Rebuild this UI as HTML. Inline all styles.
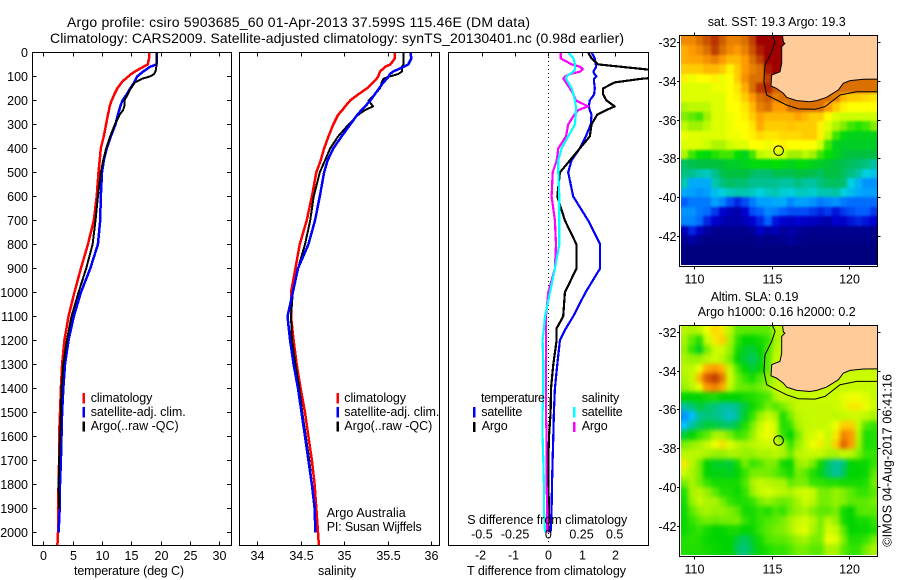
<!DOCTYPE html>
<html lang="en">
<head>
<meta charset="utf-8">
<title>Argo profile 5903685_60</title>
<style>
html,body{margin:0;padding:0;background:#fff;width:900px;height:580px;overflow:hidden}
svg{display:block}
text{font-family:"Liberation Sans",Arial,sans-serif;font-size:12.5px;fill:#000}
.title{font-size:14px}
.frame{fill:none;stroke:#000;stroke-width:1;shape-rendering:crispEdges}
</style>
</head>
<body>
<svg id="chart" xmlns="http://www.w3.org/2000/svg" width="900" height="580" viewBox="0 0 900 580">
<defs>
<clipPath id="clip-t"><rect x="33" y="53" width="198" height="492"/></clipPath>
<clipPath id="clip-s"><rect x="240" y="53" width="199" height="492"/></clipPath>
<clipPath id="clip-d"><rect x="449" y="53" width="199" height="492"/></clipPath>
<clipPath id="clip-m1"><rect x="680" y="36" width="197" height="231"/></clipPath>
<clipPath id="clip-m2"><rect x="680" y="326" width="197" height="231"/></clipPath>
<clipPath id="clip-c1"><rect x="681" y="36" width="196" height="229"/></clipPath>
<clipPath id="clip-c2"><rect x="681" y="326" width="196" height="229"/></clipPath>
<filter id="smooth-sst" x="-5%" y="-5%" width="110%" height="110%" color-interpolation-filters="sRGB">
<feGaussianBlur stdDeviation="1.2"/>
<feComponentTransfer><feFuncA type="linear" slope="60"/></feComponentTransfer>
</filter>
<filter id="smooth-sla" x="-5%" y="-5%" width="110%" height="110%" color-interpolation-filters="sRGB">
<feGaussianBlur stdDeviation="2.4"/>
<feComponentTransfer><feFuncA type="linear" slope="60"/></feComponentTransfer>
</filter>
</defs>
<rect x="0" y="0" width="900" height="580" fill="#fff"/>
<text class="title" x="67" y="27" textLength="463" lengthAdjust="spacing">Argo profile: csiro 5903685_60 01-Apr-2013 37.599S 115.46E (DM data)</text>
<text class="title" x="50" y="43" textLength="574" lengthAdjust="spacing">Climatology: CARS2009. Satellite-adjusted climatology: synTS_20130401.nc (0.98d earlier)</text>

<g id="panel-t"></g>
<g id="panel-s"></g>
<g id="panel-d"></g>
<g id="map-sst"></g>
<g id="map-sla"></g>

<rect class="frame" x="32.5" y="52.5" width="199" height="493"/>
<rect class="frame" x="239.5" y="52.5" width="200" height="493"/>
<rect class="frame" x="448.5" y="52.5" width="200" height="493"/>
<rect class="frame" x="679.5" y="35.5" width="198" height="231"/>
<rect class="frame" x="679.5" y="325.5" width="198" height="231"/>

<text x="74" y="575" textLength="110" lengthAdjust="spacing">temperature (deg C)</text>
<text x="318" y="575" textLength="38" lengthAdjust="spacing">salinity</text>
<text x="467" y="575" textLength="159" lengthAdjust="spacing">T difference from climatology</text>
<text x="467.3" y="524" textLength="160" lengthAdjust="spacing">S difference from climatology</text>

<g>
<rect x="82.5" y="393" width="2.5" height="10.5" fill="#f00"/>
<rect x="82.5" y="407" width="2.5" height="10.5" fill="#00f"/>
<rect x="82.5" y="421.5" width="2.5" height="10" fill="#000"/>
<text x="90.7" y="402" textLength="61.7" lengthAdjust="spacing">climatology</text>
<text x="90.7" y="416" textLength="95" lengthAdjust="spacing">satellite-adj. clim.</text>
<text x="90.7" y="430" textLength="88" lengthAdjust="spacing">Argo(..raw -QC)</text>
</g>
<g>
<rect x="336.5" y="393" width="2.5" height="10.5" fill="#f00"/>
<rect x="336.5" y="407" width="2.5" height="10.5" fill="#00f"/>
<rect x="336.5" y="421.5" width="2.5" height="10" fill="#000"/>
<text x="344.3" y="402" textLength="61.7" lengthAdjust="spacing">climatology</text>
<text x="344.3" y="416" textLength="95" lengthAdjust="spacing">satellite-adj. clim.</text>
<text x="344.3" y="430" textLength="88" lengthAdjust="spacing">Argo(..raw -QC)</text>
<text x="326.7" y="517" textLength="79" lengthAdjust="spacing">Argo Australia</text>
<text x="326.7" y="531" textLength="95" lengthAdjust="spacing">PI: Susan Wijffels</text>
</g>
<g>
<text x="481" y="402" textLength="64" lengthAdjust="spacing">temperature</text>
<rect x="473" y="407" width="2.5" height="10.5" fill="#00f"/>
<text x="481.3" y="416" textLength="41" lengthAdjust="spacing">satellite</text>
<rect x="473" y="422" width="2.5" height="10" fill="#000"/>
<text x="481.7" y="430" textLength="26" lengthAdjust="spacing">Argo</text>
<text x="581.7" y="402" textLength="37.6" lengthAdjust="spacing">salinity</text>
<rect x="573" y="407" width="2.5" height="10.5" fill="#0ff"/>
<text x="581.7" y="416" textLength="41" lengthAdjust="spacing">satellite</text>
<rect x="573" y="422" width="2.5" height="10" fill="#f0f"/>
<text x="581.7" y="430" textLength="26" lengthAdjust="spacing">Argo</text>
</g>

<text x="707.7" y="26" textLength="138" lengthAdjust="spacing">sat. SST: 19.3 Argo: 19.3</text>
<text x="710.7" y="301" textLength="87.7" lengthAdjust="spacing">Altim. SLA: 0.19</text>
<text x="697.7" y="316" textLength="158" lengthAdjust="spacing">Argo h1000: 0.16 h2000: 0.2</text>
<text transform="translate(891.7 546.7) rotate(-90)" x="0" y="0" textLength="172.7" lengthAdjust="spacing">©IMOS 04-Aug-2017 06:41:16</text>
</svg>

<script>
// ---- profile data ----
const profileDepths = [0,25,50,60,70,80,90,100,110,125,150,175,200,225,240,260,300,350,400,450,500,600,700,800,900,1000,1100,1200,1300,1400,1500,1600,1700,1800,1900,2000,2055];
const tempClim = [18.1,18.0,17.8,17.05,16.3,15.6,15.0,14.5,14.0,13.35,12.6,12.1,11.65,11.3,11.2,11.0,10.7,10.3,9.8,9.6,9.4,9.1,8.6,7.6,6.4,5.3,4.3,3.6,3.2,3.0,2.85,2.7,2.7,2.6,2.5,2.5,2.4];
const tempSat = [19.3,19.3,19.3,18.2,17.6,17.0,16.5,16.0,15.8,15.5,14.8,14.2,13.5,13.1,12.95,12.7,12.3,11.5,10.8,10.3,10.0,9.8,9.7,9.3,8.0,6.4,5.2,4.3,3.7,3.4,3.2,3.1,3.0,2.85,2.8,2.6];
const tempArgo = [19.3,19.3,19.3,19.25,19.2,19.1,18.9,18.2,16.8,15.6,14.9,14.4,13.8,13.8,13.6,13.0,12.2,11.4,10.7,10.2,9.8,9.3,8.9,8.4,7.3,6.0,4.8,4.0,3.4,3.1,3.0,2.85,2.7,2.6,2.7];
const salClim = [35.58,35.58,35.53,35.47,35.44,35.41,35.40,35.39,35.37,35.33,35.26,35.16,35.07,35.01,34.98,34.93,34.875,34.82,34.77,34.73,34.68,34.63,34.57,34.49,34.44,34.39,34.39,34.42,34.455,34.5,34.55,34.59,34.63,34.66,34.68,34.7,34.71];
const salSat = [35.76,35.77,35.735,35.68,35.62,35.56,35.525,35.51,35.49,35.45,35.4,35.35,35.3,35.24,35.2,35.15,35.07,34.97,34.875,34.81,34.77,34.72,34.665,34.59,34.47,34.41,34.35,34.38,34.42,34.47,34.51,34.55,34.59,34.63,34.66,34.67];
const salArgo = [35.68,35.68,35.68,35.66,35.66,35.66,35.62,35.525,35.45,35.43,35.41,35.35,35.28,35.33,35.24,35.16,35.05,34.93,34.84,34.78,34.72,34.65,34.61,34.55,34.47,34.41,34.39,34.4,34.44,34.485,34.52,34.56,34.6,34.63,34.665];

const diffDepths = [0,25,50,60,70,80,90,100,110,125,150,175,200,225,240,260,300,350,400,450,500,600,700,800,900,1000,1100,1150,1200,1300,1400,1500,1600,1700,1800,1900,2000];
const tDiffSat = [1.3,1.4,1.43,1.44,1.4,1.36,1.39,1.45,1.38,1.38,1.4,1.38,1.25,1.22,1.25,1.3,1.28,1.13,0.95,0.7,0.6,0.75,1.2,1.56,1.56,1.12,0.75,0.53,0.35,0.27,0.2,0.17,0.15,0.13,0.11,0.1,0.07];
const tDiffArgo = [1.2,1.3,1.5,2.2,2.9,3.5,3.9,3.7,2.8,2.0,1.65,1.65,1.75,2.0,1.75,1.47,1.3,1.25,0.95,0.65,0.35,0.27,0.5,0.85,0.85,0.5,0.45,0.25,0.25,0.15,0.08,0.07,0.02,0,0,0.02,0];
const sDiffSat = [0.15,0.19,0.2,0.2,0.2,0.19,0.163,0.138,0.133,0.15,0.176,0.19,0.2,0.208,0.208,0.206,0.2,0.15,0.1,0.075,0.075,0.083,0.083,0.083,0.05,0.013,-0.025,-0.033,-0.043,-0.038,-0.038,-0.043,-0.043,-0.038,-0.033,-0.033,-0.025];
const sDiffArgo = [0.093,0.093,0.176,0.24,0.26,0.24,0.163,0.126,0.113,0.133,0.163,0.19,0.208,0.3,0.226,0.196,0.15,0.133,0.075,0.063,0.033,0.025,0.05,0.058,0.05,0,-0.018,-0.018,-0.018,-0.018,-0.018,-0.018,-0.0125,-0.0125,-0.0125,-0.008,-0.008];

// ---- tick labels ----
const depthTicks = [0,100,200,300,400,500,600,700,800,900,1000,1100,1200,1300,1400,1500,1600,1700,1800,1900,2000];
const tempTicks = [0,5,10,15,20,25,30];
const salTicks = [34,34.5,35,35.5,36];
const tDiffTicks = [-2,-1,0,1,2];
const sDiffTicks = [-0.5,-0.25,0,0.25,0.5];
const lonTicks = [110,115,120];
const latTicks = [-32,-34,-36,-38,-40,-42];

// ---- map data: rows north to south, columns west to east ----
const sstGrid = [
[20.7,20.7,21,21.3,21.6,21.2,20.8,20.8,21,21.5,22,22,22,22,22,22,22,22,22,22,22,22,22,22,22,22],
[20.3,20.5,20.7,21,21.5,21,20.7,20.5,20.8,21.3,21.8,22,22,22,22,22,22,22,22,22,22,22,22,22,22,22],
[20.3,20.4,20.4,20.6,20.8,20.5,20.2,20.2,20.5,21,21.5,22,22,22,22,22,22,22,22,22,22,22,22,22,22,22],
[20,20,20,20.2,20.2,20,19.7,20,20.5,20.8,21,21.8,22,22,22,22,22,22,22,22,22,22,22,22,22,22],
[19.7,19.5,19.6,19.6,19.7,19.5,19.6,20,20.6,21,21,21.5,22,22,22,22,22,22,22,22,22,21,21,21,21,21],
[19.4,19.4,19.4,19.4,19.5,19.5,19.6,19.8,20.3,21,21.6,21.7,21.2,21,21,21,21,21,21,21,21,21,21,21,21,21],
[19.4,19.4,19.4,19.4,19.4,19.4,19.6,19.7,20,20.5,21,21.2,20.8,21,21,21,21,21,21,21,20.8,20.2,20,20,19.9,19.8],
[19.1,19.2,19.2,19.2,19.4,19.4,19.6,19.6,19.8,20.2,20.8,21,20.5,20.5,21,21,21,21,21,20.5,20,19.7,19.6,19.6,19.6,19.6],
[18.9,18.8,18.7,19,19.4,19.4,19.5,19.6,19.7,20,20.4,20.2,20.2,20.2,20.2,20.4,20.2,20,20,19.6,19.4,19.3,19.3,19.3,19.3,19.3],
[19.2,19,19,19.2,19.4,19.4,19.5,19.6,19.6,19.8,20.3,20,20,20,20.1,20,20,20,19.7,19.4,19.1,18.9,18.7,18.6,18.7,18.9],
[19.5,19.4,19.4,19.4,19.4,19.4,19.5,19.5,19.6,19.7,19.9,19.8,19.8,19.9,19.9,19.9,20,20,19.7,19.2,18.7,18.4,18.3,18.3,18.3,18.3],
[19.4,19.4,19.4,19.3,19.1,19.1,19.3,19.4,19.4,19.6,19.6,19.5,19.6,19.7,19.6,19.6,19.6,19.6,19.3,18.7,18.3,18.2,18.2,18.2,18.2,18.2],
[19.1,18.7,18.5,18.4,18.6,18.7,18.7,18.5,18.3,18.7,19.2,19.3,19.4,19.3,19,19,19.2,19,18.7,18.5,18.3,18.1,18,18,18,18],
[17.8,17.9,18,18,18,18.1,18.2,18.2,18.3,18.4,18.4,18.4,18.5,18.4,18.3,18.4,18.4,18.3,18.2,18.1,18,17.9,17.8,17.7,17.6,17.4],
[17.6,17.5,17.3,17.2,17.5,17.9,18,18,18,17.8,17.7,17.7,17.9,17.9,17.9,18,18,17.9,17.8,18,18,17.8,17.6,17.4,17,16.9],
[17.3,16.6,16.6,16.6,17.3,17.6,17.8,17.7,17.7,17.5,17.5,17.5,17.5,17.4,17.4,17.6,17.4,17.4,17.6,17.8,17.8,17.7,17,16.7,16.4,16.4],
[16.6,16.5,16.4,16.5,16.8,17,17.2,17.3,17.3,17.2,17,17.2,17.3,17.1,17,17.2,17.2,17.1,17.3,17.3,17.4,17,16.8,16.6,16.5,16.5],
[16,16.2,16.2,16.2,16.5,16.3,15.9,15.7,15.9,16.2,16.5,16.5,16.6,16.6,16.3,16.5,16.5,16.4,16.2,16.3,16.4,16.2,16.1,16.1,16.1,16.1],
[16.4,16.4,16.2,16.1,15.8,15.5,15.3,15.2,15.5,15.9,16,16.3,16.2,16,15.9,15.9,15.9,15.8,15.7,15.8,15.6,15.8,15.9,16,16,15.8],
[16.3,16.3,16.1,15.7,15.5,15.3,15.2,15.2,15.3,15.5,15.7,16,15.6,15.5,15.4,15.5,15.4,15.4,15.3,15.2,15.5,15.4,15.6,15.7,15.6,15.5],
[15.3,15.7,15.4,15.1,15,15,15,15,15,15.1,15.4,15.2,15.3,15.1,15.2,15.1,15,15,15,15,15,15,15,15,15,15],
[15,15.2,15,14.9,14.9,14.9,14.9,14.9,14.9,14.9,15,14.9,15,15,15.1,15,14.9,14.9,14.9,14.9,14.9,14.9,14.9,14.9,14.9,14.9],
[14.8,14.8,14.8,14.8,14.8,14.8,14.8,14.8,14.8,14.8,14.8,14.8,14.8,14.8,14.8,14.8,14.8,14.8,14.8,14.8,14.8,14.8,14.8,14.8,14.8,14.8],
[14.8,14.8,14.8,14.8,14.8,14.8,14.8,14.8,14.8,14.8,14.8,14.8,14.8,14.8,14.8,14.8,14.8,14.8,14.8,14.8,14.8,14.8,14.8,14.8,14.8,14.8]
];
const slaGrid = [
[.12,.1,.12,.2,.24,.22,.12,.03,.03,.03,.03,.03,.12,.12,.12,.12,.12,.12,.12,.12,.12,.12,.12,.12,.12,.12],
[.1,.03,-.02,.15,.22,.25,.1,0,-.05,-.05,-.03,0,.1,.12,.12,.12,.12,.12,.12,.12,.12,.12,.12,.12,.12,.12],
[.08,0,-.07,.05,.15,.15,.08,-.03,-.07,-.08,-.05,.02,.12,.12,.12,.12,.12,.12,.12,.12,.12,.12,.12,.12,.12,.12],
[.1,.08,.08,.12,.15,.12,.05,-.05,-.08,-.1,-.07,.03,.14,.14,.14,.14,.14,.14,.14,.14,.14,.14,.14,.14,.14,.14],
[.12,.13,.2,.28,.3,.27,.14,.02,-.05,-.08,-.05,.03,.14,.14,.14,.14,.14,.14,.14,.14,.14,.14,.14,.14,.14,.14],
[.1,.14,.27,.36,.4,.33,.16,.05,0,-.03,.02,.07,.12,.15,.15,.15,.15,.15,.15,.15,.15,.15,.15,.15,.15,.15],
[.08,.12,.2,.3,.32,.28,.14,.05,.04,.03,.05,.08,.14,.14,.14,.14,.14,.14,.14,.14,.14,.14,.14,.14,.14,.14],
[-.05,-.05,-.05,-.03,-.02,-.05,-.05,-.05,-.03,-.02,0,.02,.1,.14,.12,.13,.14,.15,.15,.15,.15,.18,.2,.2,.18,.14],
[-.15,-.12,-.08,-.1,-.12,-.15,-.15,-.13,-.08,-.04,0,.05,.02,.05,.1,.14,.14,.14,.14,.14,.15,.18,.22,.22,.2,.15],
[-.25,-.2,-.14,-.12,-.13,-.15,-.17,-.14,-.07,0,.08,.14,.1,-.02,.05,.12,.14,.14,.14,.14,.13,.14,.15,.15,.13,.1],
[-.2,-.15,-.1,-.08,-.08,-.1,-.1,-.08,-.02,.05,.14,.2,.15,-.02,0,.1,.13,.14,.14,.15,.2,.25,.25,.14,.02,0],
[-.08,-.05,0,.03,.1,.1,.05,0,.02,.08,.16,.2,.15,0,-.05,.05,.14,.16,.2,.14,.22,.32,.3,.12,-.02,-.02],
[.05,.08,.1,.14,.2,.23,.18,.12,.1,.12,.14,.15,.15,.1,0,.08,.14,.2,.22,.14,.25,.35,.3,.1,-.02,-.02],
[.12,.12,.12,.1,.08,.08,.1,.1,.08,.08,.1,.1,.12,.1,.04,.12,.14,.14,.14,.1,.1,.14,.12,.06,0,0],
[.22,.12,.05,-.05,-.07,-.07,-.08,-.03,.05,0,.02,.06,.05,-.03,-.05,.08,.1,.05,-.04,-.1,-.15,-.12,-.05,-.04,-.04,0],
[.15,.1,.05,-.05,-.06,-.06,-.07,-.05,0,.05,.05,.05,.03,0,-.03,.05,.03,-.02,-.06,-.1,-.15,-.1,-.05,-.05,-.04,.03],
[.05,.1,.05,0,-.03,-.03,-.03,-.03,.02,.1,.14,.12,.1,.1,.03,.05,.05,0,0,-.02,-.02,-.03,-.03,-.03,-.02,.05],
[-.02,.1,.12,.08,.03,-.02,-.02,-.04,0,.08,.14,.16,.14,.12,.1,.14,.16,.14,.05,.05,.08,.06,.03,0,0,.03],
[-.03,.08,.14,.1,.1,.05,0,-.02,-.02,0,.05,.08,.05,.04,.05,.1,.15,.12,.05,.05,.08,.06,.03,.03,.03,.05],
[-.04,.03,.08,.1,.08,.08,.06,.03,-.03,-.03,0,-.02,.02,0,.05,.08,.1,.06,.03,.03,.05,-.03,-.05,.02,.03,.03],
[-.04,0,.03,.05,.04,.05,.05,.06,0,-.03,0,.02,.03,.05,.1,.14,.16,.12,.05,.12,.08,-.03,-.05,-.03,-.03,0],
[-.04,-.02,0,-.03,-.05,-.05,-.03,-.03,-.05,-.04,0,.03,.05,.06,.1,.16,.18,.1,.05,.16,.14,.03,-.05,-.04,-.04,-.02],
[-.02,-.01,-.02,-.04,-.05,-.05,-.05,-.08,-.1,-.07,-.03,.02,.03,.03,.05,.08,.1,.05,.05,.2,.18,.06,-.02,-.02,0,.05],
[-.02,-.02,-.02,-.03,-.04,-.05,-.05,-.1,-.12,-.08,-.04,-.02,0,0,.02,.05,.05,.03,.03,.1,.1,.03,0,0,.05,.1]
];
// Geography (longitude, latitude)
const coastLon = [115.70,115.77,115.87,115.66,115.66,115.55,115.01,114.97,115.33,115.77,115.98,116.63,117.49,117.93,118.57,119.33,119.65,120.09,120.95,121.9];
const coastLat = [-31.6,-32.02,-32.07,-32.24,-33.10,-33.53,-33.70,-34.27,-34.39,-34.65,-34.85,-35.02,-35.08,-35.02,-34.85,-34.47,-34.13,-33.99,-33.92,-33.91];
const shelfLon = [115.01,115.23,115.01,114.58,114.51,114.69,115.33,115.98,116.74,117.82,118.47,119.44,120.52,121.9];
const shelfLat = [-31.6,-31.98,-32.50,-33.19,-34.04,-34.73,-34.99,-35.25,-35.45,-35.47,-35.33,-34.73,-34.56,-34.56];
const floatLon = 115.46;
const floatLat = -37.599;

// Colour scales
const sstLevels = [14.8,15,15.5,16,16.5,17,17.5,18,18.5,19,19.3,19.6,20,20.5,21,21.5,22];
const sstColors = ['#00007f','#00008f','#0000d0','#0060ff','#00a0ff','#00d0e0','#00c090','#00c040','#00e000','#a0f000','#ccff00','#ffff00','#ffcc00','#ff9900','#d97000','#c04000','#a00000'];
const slaLevels = [-.25,-.2,-.15,-.1,-.05,0,.05,.1,.15,.2,.25,.3,.35,.4];
const slaColors = ['#0090ff','#00c0ff','#00c0a0','#00c860','#00d400','#33e400','#77ee00','#aaf400','#ccfc00','#eeff00','#ffcc00','#ff9900','#e06000','#c04000'];

const NS = 'http://www.w3.org/2000/svg';
function add(parent, tag, attrs, txt) {
  const el = document.createElementNS(NS, tag);
  for (const k in attrs) el.setAttribute(k, attrs[k]);
  if (txt !== undefined) el.textContent = txt;
  parent.appendChild(el);
  return el;
}

// Axis functions
const yDepth = d => 52.4 + 0.24 * d;
const xTemp = v => 43.3 + 5.87 * v;
const xSal = v => 257 + 87.2 * (v - 34);
const xTDiff = v => 548.3 + 33.2 * v;
const xSDiff = v => 548.3 + 132.8 * v;
const xLon = v => 694.3 + 15.44 * (v - 110);
const yLatSst = v => 42 + 19.4 * (-32 - v);
const yLatSla = v => 331.7 + 19.43 * (-32 - v);

function drawProfile(parent, values, depths, xf, color, width, clip, name) {
  const pts = values.map((v, i) => xf(v).toFixed(1) + ',' + yDepth(depths[i]).toFixed(1)).join(' ');
  const line = add(parent, 'polyline', {points: pts, fill: 'none', stroke: color, 'stroke-width': width, 'stroke-linejoin': 'round', 'clip-path': 'url(#' + clip + ')', 'shape-rendering': 'crispEdges'});
  
  
}

function tickLine(parent, x1, y1, x2, y2, name) {
  const t = add(parent, 'line', {x1: x1, y1: y1, x2: x2, y2: y2, stroke: '#000', 'stroke-width': 1, 'shape-rendering': 'crispEdges'});
  
  
}

// ---- temperature panel ----
const gT = document.getElementById('panel-t');
drawProfile(gT, tempClim, profileDepths, xTemp, '#f00', 2.5, 'clip-t', 'temperature-climatology-line');
drawProfile(gT, tempSat, profileDepths, xTemp, '#00f', 2.5, 'clip-t', 'temperature-satellite-line');
drawProfile(gT, tempArgo, profileDepths, xTemp, '#000', 2, 'clip-t', 'temperature-argo-line');
depthTicks.forEach(d => {
  const y = Math.round(yDepth(d)) + 0.5;
  tickLine(gT, 32.5, y, 36.5, y, 'depth-tick-left');
  tickLine(gT, 231.5, y, 227, y, 'depth-tick-right');
  const lab = add(gT, 'text', {x: 28, y: y + 4.5, 'text-anchor': 'end'}, String(d));
  
  
});
tempTicks.forEach(v => {
  const x = Math.round(xTemp(v)) + 0.5;
  tickLine(gT, x, 52.5, x, 56.5, 'temperature-tick-top');
  tickLine(gT, x, 545.5, x, 541.5, 'temperature-tick-bottom');
  const lab = add(gT, 'text', {x: x, y: 560, 'text-anchor': 'middle'}, String(v));
  
  
});

// ---- salinity panel ----
const gS = document.getElementById('panel-s');
drawProfile(gS, salClim, profileDepths, xSal, '#f00', 2.5, 'clip-s', 'salinity-climatology-line');
drawProfile(gS, salArgo, profileDepths, xSal, '#000', 2, 'clip-s', 'salinity-argo-line');
drawProfile(gS, salSat, profileDepths, xSal, '#00f', 2.5, 'clip-s', 'salinity-satellite-line');
salTicks.forEach(v => {
  const x = Math.round(xSal(v)) + 0.5;
  tickLine(gS, x, 52.5, x, 56.5, 'salinity-tick-top');
  tickLine(gS, x, 545.5, x, 541.5, 'salinity-tick-bottom');
  const lab = add(gS, 'text', {x: x, y: 560, 'text-anchor': 'middle'}, String(v));
  
  
});

// ---- difference panel ----
const gD = document.getElementById('panel-d');
const zero = add(gD, 'line', {x1: xTDiff(0), y1: 53, x2: xTDiff(0), y2: 545, stroke: '#000', 'stroke-width': 1, 'stroke-dasharray': '1 3', 'shape-rendering': 'crispEdges'});


drawProfile(gD, tDiffSat, diffDepths, xTDiff, '#00f', 2.2, 'clip-d', 't-difference-satellite-line');
drawProfile(gD, tDiffArgo, diffDepths, xTDiff, '#000', 2.2, 'clip-d', 't-difference-argo-line');
drawProfile(gD, sDiffArgo, diffDepths, xSDiff, '#f0f', 2.2, 'clip-d', 's-difference-argo-line');
drawProfile(gD, sDiffSat, diffDepths, xSDiff, '#0ff', 2.2, 'clip-d', 's-difference-satellite-line');
tDiffTicks.forEach(v => {
  const x = Math.round(xTDiff(v)) + 0.5;
  tickLine(gD, x, 52.5, x, 56.5, 't-difference-tick-top');
  const lab = add(gD, 'text', {x: x - (v < 0 ? 2 : 0), y: 559.5, 'text-anchor': 'middle'}, String(v));
  
  
});
sDiffTicks.forEach(v => {
  const lab = add(gD, 'text', {x: xSDiff(v), y: 538.5, 'text-anchor': 'middle'}, String(v));
  
  
});

// ---- maps ----
function colourFor(v, levels, colors) {
  if (v <= levels[0]) return colors[0];
  for (let i = 1; i < levels.length; i++) {
    if (v <= levels[i]) {
      const f = (v - levels[i - 1]) / (levels[i] - levels[i - 1]);
      const a = colors[i - 1], b = colors[i];
      const ch = s => [1, 3, 5].map(p => parseInt(s.substr(p, 2), 16));
      const ca = ch(a), cb = ch(b);
      return 'rgb(' + ca.map((c, k) => Math.round(c + (cb[k] - c) * f)).join(',') + ')';
    }
  }
  return colors[colors.length - 1];
}

const mapLonStart = 109.12;
const mapLatStart = -31.68;
const mapCellDeg = 0.49;

function drawMap(parent, grid, levels, colors, yLat, clip, cellClip, smooth, prefix, labelY, axisBottom, axisTop) {
  const clipGroup = add(parent, 'g', {'clip-path': 'url(#' + cellClip + ')'});
  
  
  const cells = add(clipGroup, 'g', {filter: 'url(#' + smooth + ')'});
  
  
  grid.forEach((row, r) => {
    row.forEach((v, c) => {
      const x0 = Math.round(xLon(mapLonStart + c * mapCellDeg));
      const x1 = Math.round(xLon(mapLonStart + (c + 1) * mapCellDeg));
      const y0 = Math.round(yLat(mapLatStart - r * mapCellDeg));
      const y1 = Math.round(yLat(mapLatStart - (r + 1) * mapCellDeg));
      const cell = add(cells, 'rect', {x: x0, y: y0, width: x1 - x0, height: y1 - y0, fill: colourFor(v, levels, colors), 'shape-rendering': 'crispEdges'});
      
      
    });
  });
  const landPts = coastLon.map((lon, i) => xLon(lon).toFixed(1) + ',' + yLat(coastLat[i]).toFixed(1));
  landPts.push(xLon(121.9).toFixed(1) + ',' + yLat(-31.6).toFixed(1));
  const land = add(parent, 'polygon', {points: landPts.join(' '), fill: '#ffcc99', stroke: '#000', 'stroke-width': 1, 'clip-path': 'url(#' + clip + ')'});
  
  
  const shelf = add(parent, 'polyline', {points: shelfLon.map((lon, i) => xLon(lon).toFixed(1) + ',' + yLat(shelfLat[i]).toFixed(1)).join(' '), fill: 'none', stroke: '#000', 'stroke-width': 1, 'clip-path': 'url(#' + clip + ')'});
  
  
  const marker = add(parent, 'circle', {cx: xLon(floatLon), cy: yLat(floatLat), r: 4.8, fill: 'none', stroke: '#000', 'stroke-width': 1});
  
  
  lonTicks.forEach(v => {
    const x = Math.round(xLon(v)) + 0.5;
    tickLine(parent, x, axisTop, x, axisTop - 3, prefix + '-lon-tick-top');
    tickLine(parent, x, axisBottom, x, axisBottom + 3, prefix + '-lon-tick-bottom');
    const lab = add(parent, 'text', {x: x, y: labelY, 'text-anchor': 'middle'}, String(v));
    
    
  });
  latTicks.forEach(v => {
    const y = Math.round(yLat(v)) + 0.5;
    tickLine(parent, 679.5, y, 677, y, prefix + '-lat-tick-left');
    tickLine(parent, 877.5, y, 880.5, y, prefix + '-lat-tick-right');
    const lab = add(parent, 'text', {x: 676.5, y: y + 4.5, 'text-anchor': 'end'}, String(v));
    
    
  });
}
drawMap(document.getElementById('map-sst'), sstGrid, sstLevels, sstColors, yLatSst, 'clip-m1', 'clip-c1', 'smooth-sst', 'sst', 283.5, 266.5, 35.5);
drawMap(document.getElementById('map-sla'), slaGrid, slaLevels, slaColors, yLatSla, 'clip-m2', 'clip-c2', 'smooth-sla', 'sla', 573.5, 556.5, 325.5);
</script>
</body>
</html>
